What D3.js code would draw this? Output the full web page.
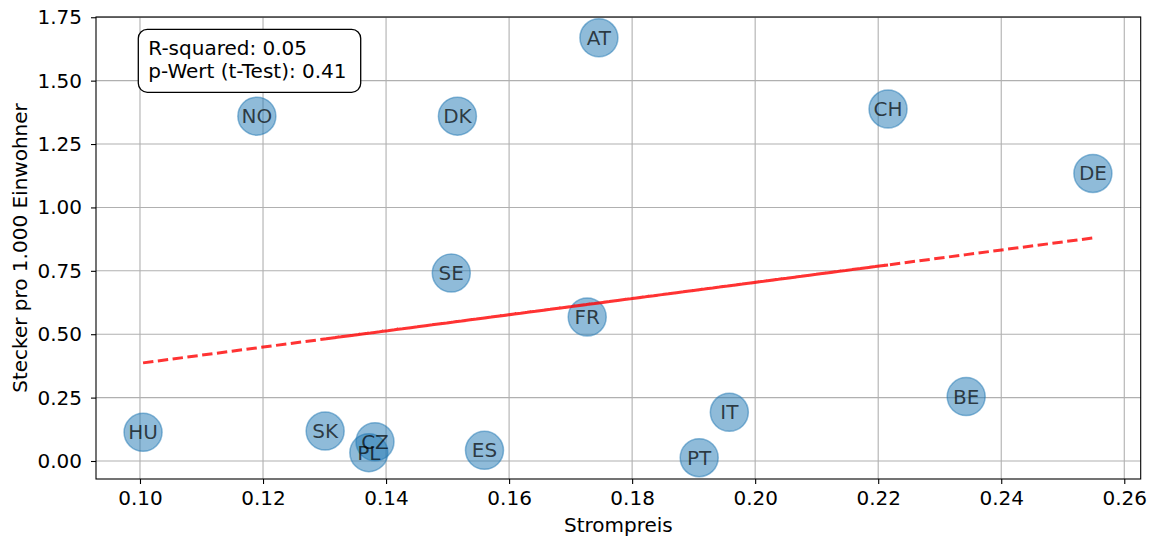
<!DOCTYPE html>
<html>
<head>
<meta charset="utf-8">
<script src="https://cdn.jsdelivr.net/npm/d3@7"></script>
<style>
  html, body { margin: 0; padding: 0; background: #fff; }
  svg { display: block; font-family: "DejaVu Sans", sans-serif; }
</style>
</head>
<body>
<svg id="chart" width="1158" height="542"></svg>
<script>
// Country codes, electricity price (x) and plugs per 1,000 inhabitants (y)
const countries = ["HU", "NO", "AT", "CH", "DK", "SE", "FR", "SK", "CZ", "PL", "ES", "PT", "IT", "BE", "DE"];
const strompreis = [0.1005, 0.1190, 0.1746, 0.2216, 0.1516, 0.1506, 0.1727, 0.1301, 0.1382, 0.1372, 0.1560, 0.1909, 0.1958, 0.2343, 0.2549];
const stecker = [0.113, 1.360, 1.669, 1.388, 1.360, 0.741, 0.568, 0.118, 0.076, 0.033, 0.042, 0.013, 0.192, 0.254, 1.134];

const xTicks = [0.10, 0.12, 0.14, 0.16, 0.18, 0.20, 0.22, 0.24, 0.26];
const yTicks = [0.00, 0.25, 0.50, 0.75, 1.00, 1.25, 1.50, 1.75];
const statsLines = ["R-squared: 0.05", "p-Wert (t-Test): 0.41"];

const svg = d3.select("#chart");
const plot = { left: 96, right: 1140.7, top: 17, bottom: 479 };
const fontSize = 20;

const x = d3.scaleLinear().domain([0.09285, 0.26267]).range([plot.left, plot.right]);
const y = d3.scaleLinear().domain([-0.071, 1.751]).range([plot.bottom, plot.top]);

// Grid
const grid = svg.append("g");
grid.selectAll("line.gx").data(xTicks).join("line")
  .attr("x1", d => x(d)).attr("x2", d => x(d))
  .attr("y1", plot.top).attr("y2", plot.bottom)
  .attr("stroke", "#b0b0b0").attr("stroke-width", 1.1);
grid.selectAll("line.gy").data(yTicks).join("line")
  .attr("x1", plot.left).attr("x2", plot.right)
  .attr("y1", d => y(d)).attr("y2", d => y(d))
  .attr("stroke", "#b0b0b0").attr("stroke-width", 1.1);

// Points
const pts = countries.map((c, i) => ({ c, x: strompreis[i], y: stecker[i] }));
svg.append("g").selectAll("circle").data(pts).join("circle")
  .attr("cx", d => x(d.x)).attr("cy", d => y(d.y)).attr("r", 19)
  .attr("fill", "#1f77b4").attr("fill-opacity", 0.5)
  .attr("stroke", "#1f77b4").attr("stroke-opacity", 0.5).attr("stroke-width", 1.5);

// Least-squares fit, drawn through each country's x in data order
const mx = d3.mean(strompreis), my = d3.mean(stecker);
const sxy = d3.sum(strompreis, (v, i) => (v - mx) * (stecker[i] - my));
const sxx = d3.sum(strompreis, v => (v - mx) * (v - mx));
const slope = sxy / sxx, intercept = my - slope * mx;
const fitLine = d3.line().x(d => x(d)).y(d => y(intercept + slope * d));
svg.append("path").attr("d", fitLine(strompreis))
  .attr("fill", "none").attr("stroke", "red").attr("stroke-opacity", 0.8)
  .attr("stroke-width", 3).attr("stroke-dasharray", "10.4,4.5");

// Country labels
svg.append("g").selectAll("text").data(pts).join("text")
  .attr("x", d => x(d.x)).attr("y", d => y(d.y))
  .attr("text-anchor", "middle").attr("dominant-baseline", "central")
  .attr("font-size", fontSize).attr("fill", "#000").attr("fill-opacity", 0.7)
  .text(d => d.c);

// Axes
const xAxis = d3.axisBottom(x).tickValues(xTicks).tickFormat(d3.format(".2f"))
  .tickSizeInner(5).tickSizeOuter(0).tickPadding(7);
const yAxis = d3.axisLeft(y).tickValues(yTicks).tickFormat(d3.format(".2f"))
  .tickSizeInner(5).tickSizeOuter(0).tickPadding(9);

const gx = svg.append("g").attr("transform", `translate(0,${plot.bottom})`).call(xAxis);
const gy = svg.append("g").attr("transform", `translate(${plot.left},0)`).call(yAxis);
[gx, gy].forEach(g => {
  g.select(".domain").remove();
  g.selectAll(".tick line").attr("stroke", "#000").attr("stroke-width", 1.1);
  g.selectAll(".tick text").attr("font-size", fontSize).attr("fill", "#000")
    .attr("font-family", "DejaVu Sans, sans-serif");
});

// Frame
svg.append("rect")
  .attr("x", plot.left).attr("y", plot.top)
  .attr("width", plot.right - plot.left).attr("height", plot.bottom - plot.top)
  .attr("fill", "none").attr("stroke", "#000").attr("stroke-width", 1.1);

// Axis titles
svg.append("text").attr("x", (plot.left + plot.right) / 2).attr("y", 531.5)
  .attr("text-anchor", "middle").attr("font-size", fontSize).text("Strompreis");
svg.append("text")
  .attr("transform", `translate(27,${(plot.top + plot.bottom) / 2}) rotate(-90)`)
  .attr("text-anchor", "middle").attr("font-size", fontSize).text("Stecker pro 1.000 Einwohner");

// Statistics box
const box = svg.append("g");
box.append("rect").attr("x", 138.3).attr("y", 29.3).attr("width", 222.4).attr("height", 63)
  .attr("rx", 9).attr("ry", 9)
  .attr("fill", "#fff").attr("stroke", "#000").attr("stroke-width", 1.3);
box.selectAll("text").data(statsLines).join("text")
  .attr("x", 148.3).attr("y", (d, i) => 55 + i * 22.5)
  .attr("font-size", fontSize).attr("fill", "#000").text(d => d);
</script>
</body>
</html>
